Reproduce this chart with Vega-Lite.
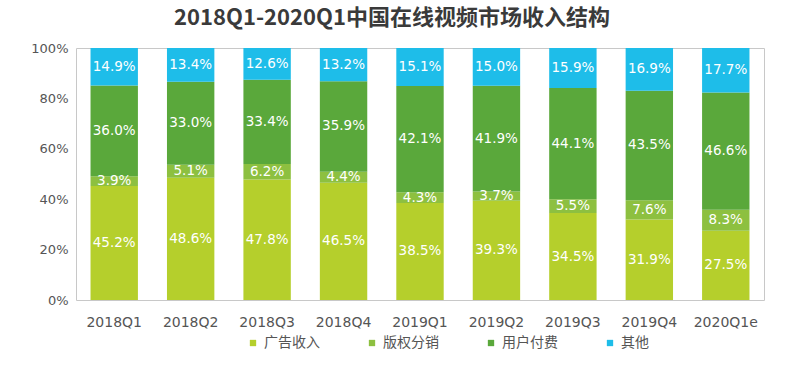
{
  "$schema": "https://vega.github.io/schema/vega-lite/v6.json",
  "width": 688,
  "height": 252,
  "autosize": {"type": "none"},
  "padding": {"left": 76, "top": 48, "right": 21, "bottom": 67},
  "background": "white",
  "title": {
    "text": "2018Q1-2020Q1中国在线视频市场收入结构",
    "fontSize": 22,
    "fontWeight": "bold",
    "color": "#3a3a3a",
    "font": "Noto Sans CJK SC",
    "anchor": "middle",
    "dx": -28,
    "offset": 12
  },
  "config": {
    "font": "Noto Sans CJK SC",
    "view": {"stroke": "#c8c8c8", "strokeWidth": 1}
  },
  "data": {
    "values": [
      {"q": "2018Q1", "s": "广告收入", "o": 1, "v": 0.452},
      {"q": "2018Q1", "s": "版权分销", "o": 2, "v": 0.039},
      {"q": "2018Q1", "s": "用户付费", "o": 3, "v": 0.360},
      {"q": "2018Q1", "s": "其他", "o": 4, "v": 0.149},
      {"q": "2018Q2", "s": "广告收入", "o": 1, "v": 0.486},
      {"q": "2018Q2", "s": "版权分销", "o": 2, "v": 0.051},
      {"q": "2018Q2", "s": "用户付费", "o": 3, "v": 0.330},
      {"q": "2018Q2", "s": "其他", "o": 4, "v": 0.134},
      {"q": "2018Q3", "s": "广告收入", "o": 1, "v": 0.478},
      {"q": "2018Q3", "s": "版权分销", "o": 2, "v": 0.062},
      {"q": "2018Q3", "s": "用户付费", "o": 3, "v": 0.334},
      {"q": "2018Q3", "s": "其他", "o": 4, "v": 0.126},
      {"q": "2018Q4", "s": "广告收入", "o": 1, "v": 0.465},
      {"q": "2018Q4", "s": "版权分销", "o": 2, "v": 0.044},
      {"q": "2018Q4", "s": "用户付费", "o": 3, "v": 0.359},
      {"q": "2018Q4", "s": "其他", "o": 4, "v": 0.132},
      {"q": "2019Q1", "s": "广告收入", "o": 1, "v": 0.385},
      {"q": "2019Q1", "s": "版权分销", "o": 2, "v": 0.043},
      {"q": "2019Q1", "s": "用户付费", "o": 3, "v": 0.421},
      {"q": "2019Q1", "s": "其他", "o": 4, "v": 0.151},
      {"q": "2019Q2", "s": "广告收入", "o": 1, "v": 0.393},
      {"q": "2019Q2", "s": "版权分销", "o": 2, "v": 0.037},
      {"q": "2019Q2", "s": "用户付费", "o": 3, "v": 0.419},
      {"q": "2019Q2", "s": "其他", "o": 4, "v": 0.150},
      {"q": "2019Q3", "s": "广告收入", "o": 1, "v": 0.345},
      {"q": "2019Q3", "s": "版权分销", "o": 2, "v": 0.055},
      {"q": "2019Q3", "s": "用户付费", "o": 3, "v": 0.441},
      {"q": "2019Q3", "s": "其他", "o": 4, "v": 0.159},
      {"q": "2019Q4", "s": "广告收入", "o": 1, "v": 0.319},
      {"q": "2019Q4", "s": "版权分销", "o": 2, "v": 0.076},
      {"q": "2019Q4", "s": "用户付费", "o": 3, "v": 0.435},
      {"q": "2019Q4", "s": "其他", "o": 4, "v": 0.169},
      {"q": "2020Q1e", "s": "广告收入", "o": 1, "v": 0.275},
      {"q": "2020Q1e", "s": "版权分销", "o": 2, "v": 0.083},
      {"q": "2020Q1e", "s": "用户付费", "o": 3, "v": 0.466},
      {"q": "2020Q1e", "s": "其他", "o": 4, "v": 0.177}
    ]
  },
  "transform": [
    {"stack": "v", "groupby": ["q"], "sort": [{"field": "o", "order": "ascending"}], "as": ["y0", "y1"], "offset": "normalize"},
    {"calculate": "(datum.y0 + datum.y1) / 2", "as": "ym"}
  ],
  "encoding": {
    "x": {
      "field": "q",
      "type": "nominal",
      "sort": null,
      "scale": {"paddingInner": 0.38, "paddingOuter": 0.19},
      "axis": {
        "title": null,
        "labelAngle": 0,
        "labelFontSize": 14,
        "labelColor": "#555555",
        "labelFont": "DejaVu Sans",
        "domain": false,
        "ticks": false,
        "labelPadding": 15
      }
    }
  },
  "layer": [
    {
      "mark": {"type": "bar"},
      "encoding": {
        "y": {
          "field": "y0",
          "type": "quantitative",
          "scale": {"domain": [0, 1]},
          "axis": {
            "title": null,
            "format": ".0%",
            "values": [0, 0.2, 0.4, 0.6, 0.8, 1],
            "labelOverlap": false,
            "labelFontSize": 13,
            "labelColor": "#555555",
            "labelFont": "DejaVu Sans",
            "domain": false,
            "ticks": false,
            "grid": false,
            "labelPadding": 8
          }
        },
        "y2": {"field": "y1"},
        "color": {
          "field": "s",
          "type": "nominal",
          "sort": ["广告收入", "版权分销", "用户付费", "其他"],
          "scale": {
            "domain": ["广告收入", "版权分销", "用户付费", "其他"],
            "range": ["#b5cf2c", "#8dc040", "#5aa83b", "#1ebde9"]
          },
          "legend": {
            "title": null,
            "orient": "none",
            "legendX": 170,
            "legendY": 288,
            "direction": "horizontal",
            "symbolType": "square",
            "symbolSize": 40,
            "symbolStrokeWidth": 0,
            "labelFontSize": 14,
            "labelColor": "#555555",
            "labelOffset": 4,
            "columnPadding": 45,
            "padding": 0
          }
        }
      }
    },
    {
      "mark": {"type": "text", "color": "white", "fontSize": 13.5, "font": "DejaVu Sans"},
      "encoding": {
        "y": {"field": "ym", "type": "quantitative", "scale": {"domain": [0, 1]}},
        "text": {"field": "v", "type": "quantitative", "format": ".1%"}
      }
    }
  ]
}
